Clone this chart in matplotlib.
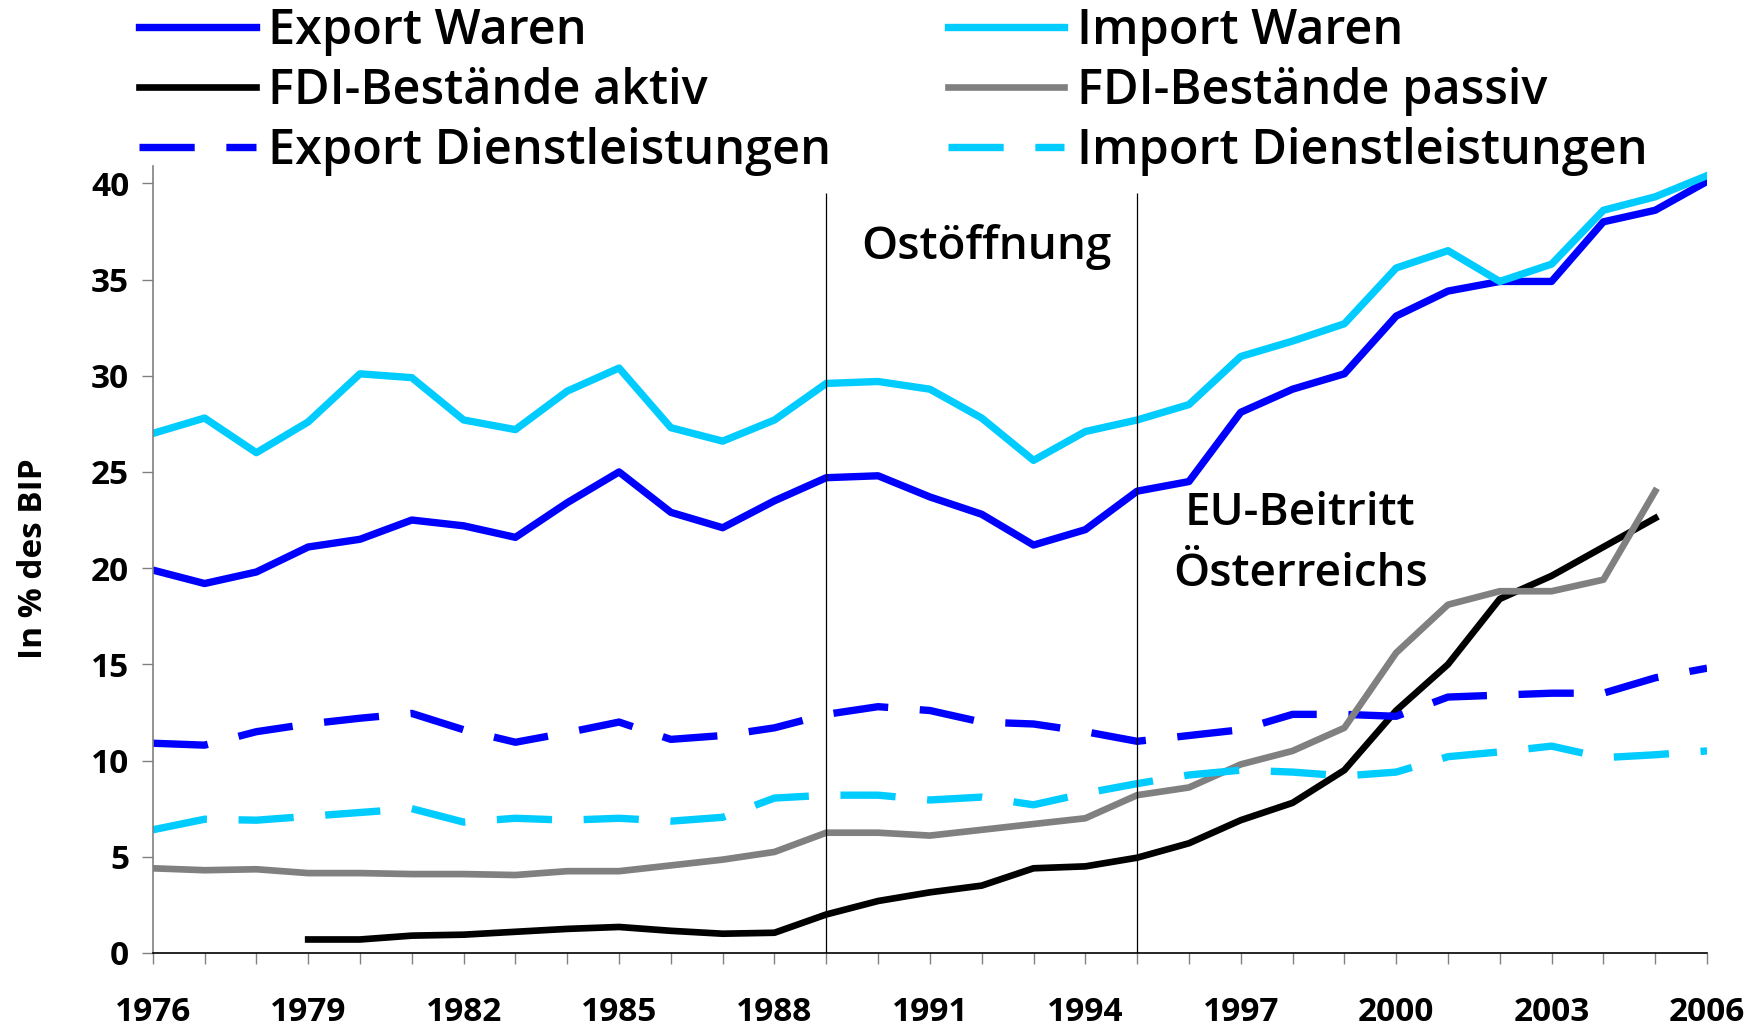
import matplotlib.pyplot as plt
import numpy as np

plt.rcParams['font.family'] = ['Open Sans', 'DejaVu Sans']

years = np.arange(1976, 2007)
nan = np.nan

# in % des BIP
export_waren = [19.9, 19.2, 19.8, 21.1, 21.5, 22.5, 22.2, 21.6, 23.4, 25.0,
                22.9, 22.1, 23.5, 24.7, 24.8, 23.7, 22.8, 21.2, 22.0, 24.0,
                24.5, 28.1, 29.3, 30.1, 33.1, 34.4, 34.9, 34.9, 38.0, 38.6, 40.1]
import_waren = [27.0, 27.8, 26.0, 27.6, 30.1, 29.9, 27.7, 27.2, 29.2, 30.4,
                27.3, 26.6, 27.7, 29.6, 29.7, 29.3, 27.8, 25.6, 27.1, 27.7,
                28.5, 31.0, 31.8, 32.7, 35.6, 36.5, 34.9, 35.8, 38.6, 39.3, 40.4]
fdi_aktiv = [nan, nan, nan, 0.7, 0.7, 0.9, 0.95, 1.1, 1.25, 1.35,
             1.15, 1.0, 1.05, 2.0, 2.7, 3.15, 3.5, 4.4, 4.5, 4.95,
             5.7, 6.9, 7.8, 9.5, 12.6, 15.0, 18.4, 19.6, 21.1, 22.6, nan]
fdi_passiv = [4.4, 4.3, 4.35, 4.15, 4.15, 4.1, 4.1, 4.05, 4.25, 4.25,
              4.55, 4.85, 5.25, 6.25, 6.25, 6.1, 6.4, 6.7, 7.0, 8.2,
              8.6, 9.8, 10.5, 11.7, 15.6, 18.1, 18.8, 18.8, 19.4, 24.0, nan]
export_dl = [10.9, 10.8, 11.5, 11.9, 12.2, 12.45, 11.6, 10.95, 11.45, 12.0,
             11.1, 11.3, 11.7, 12.4, 12.8, 12.6, 12.0, 11.9, 11.5, 11.0,
             11.3, 11.6, 12.4, 12.4, 12.3, 13.3, 13.4, 13.5, 13.5, 14.3, 14.8]
import_dl = [6.4, 6.95, 6.9, 7.1, 7.3, 7.5, 6.8, 7.0, 6.9, 7.0,
             6.85, 7.05, 8.05, 8.2, 8.2, 7.95, 8.1, 7.7, 8.3, 8.8,
             9.25, 9.5, 9.4, 9.2, 9.4, 10.2, 10.45, 10.75, 10.15, 10.3, 10.5]

fig = plt.figure(figsize=(17.62, 10.26), dpi=100)
ax = fig.add_axes([0.0867, 0.0712, 0.8821, 0.7670])

blue = '#0000ff'
cyan = '#00ccff'
dash = (7.5, 4.3)

ax.plot(years, export_waren, color=blue, lw=5.3, label='Export Waren')
ax.plot(years, fdi_aktiv, color='black', lw=4.8, label='FDI-Bestände aktiv')
ax.plot(years, export_dl, color=blue, lw=5.3, dashes=dash, label='Export Dienstleistungen')
ax.plot(years, import_waren, color=cyan, lw=5.3, label='Import Waren')
ax.plot(years, fdi_passiv, color='#808080', lw=4.8, label='FDI-Bestände passiv')
ax.plot(years, import_dl, color=cyan, lw=5.3, dashes=dash, label='Import Dienstleistungen')

ax.vlines([1989, 1995], 0, 39.5, color='black', lw=0.9)

ax.set_xlim(1976, 2006)
ax.set_ylim(0, 40.9)
ax.set_xticks(years)
ax.set_xticklabels([str(y) if (y - 1976) % 3 == 0 else '' for y in years],
                   fontsize=24, fontweight='bold')
ax.set_yticks(np.arange(0, 41, 5))
ax.set_yticklabels([str(v) for v in range(0, 41, 5)], fontsize=24,
                   fontweight='bold')

for s in ['top', 'right']:
    ax.spines[s].set_visible(False)
ax.spines['left'].set_color('#808080')
ax.spines['left'].set_linewidth(1.2)
ax.spines['bottom'].set_color('black')
ax.spines['bottom'].set_linewidth(1.2)
ax.tick_params(axis='x', length=8, width=1, color='#808080', pad=23)
ax.tick_params(axis='y', length=8, width=1, color='#808080', pad=9)

ax.text(1992.1, 36.7, 'Ostöffnung', fontsize=33, fontweight='semibold',
        ha='center', va='center')
ax.text(1998.15, 21.25, 'EU-Beitritt\nÖsterreichs', fontsize=33,
        fontweight='semibold', ha='center', va='center', linespacing=1.45)

fig.text(0.019, 0.456, 'In % des BIP', rotation=90, fontsize=24,
         fontweight='bold', ha='center', va='center')

fig.legend(loc='upper left', bbox_to_anchor=(0.068, 1.012), ncol=2,
           frameon=False, handlelength=2.4, handletextpad=0.25,
           columnspacing=2.4, labelspacing=0.22, borderaxespad=0,
           prop={'size': 35, 'weight': 'semibold'})

fig.savefig('out.png', dpi=100)
